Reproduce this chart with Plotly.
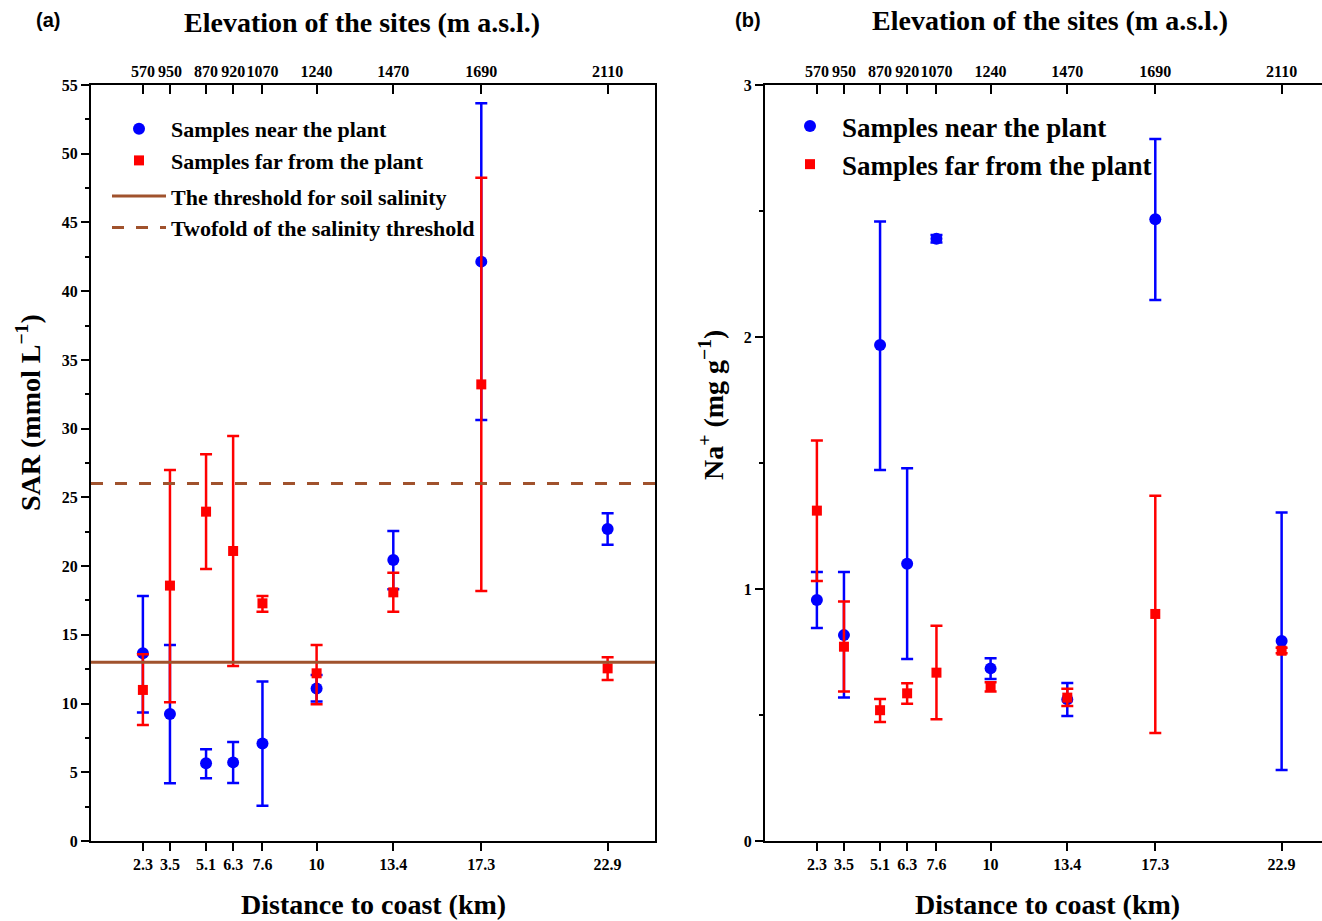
import plotly.graph_objects as go

# ---------------- data ----------------
distance_km = [2.3, 3.5, 5.1, 6.3, 7.6, 10, 13.4, 17.3, 22.9]
distance_labels = ["2.3", "3.5", "5.1", "6.3", "7.6", "10", "13.4", "17.3", "22.9"]
elevation_labels = ["570", "950", "870", "920", "1070", "1240", "1470", "1690", "2110"]

sar_near = [13.66, 9.24, 5.65, 5.72, 7.10, 11.10, 20.44, 42.15, 22.70]
sar_near_upper = [17.82, 14.26, 6.67, 7.20, 11.60, 12.08, 22.55, 53.67, 23.84]
sar_near_lower = [9.34, 4.20, 4.56, 4.22, 2.57, 10.14, 18.31, 30.63, 21.56]
sar_far = [10.99, 18.58, 23.96, 21.10, 17.29, 12.20, 18.09, 33.22, 12.56]
sar_far_upper = [13.58, 26.99, 28.13, 29.47, 17.82, 14.26, 19.52, 48.26, 13.37]
sar_far_lower = [8.44, 10.09, 19.79, 12.73, 16.68, 9.94, 16.68, 18.19, 11.71]

na_near = [0.956, 0.817, 1.968, 1.100, 2.390, 0.685, 0.562, 2.467, 0.794]
na_near_upper = [1.067, 1.067, 2.458, 1.479, 2.405, 0.725, 0.627, 2.786, 1.304]
na_near_lower = [0.845, 0.569, 1.472, 0.722, 2.375, 0.643, 0.496, 2.147, 0.282]
na_far = [1.311, 0.771, 0.519, 0.586, 0.668, 0.612, 0.569, 0.901, 0.755]
na_far_upper = [1.589, 0.950, 0.563, 0.626, 0.854, 0.630, 0.604, 1.370, 0.767]
na_far_lower = [1.032, 0.593, 0.472, 0.545, 0.483, 0.593, 0.536, 0.429, 0.745]

sar_threshold = 13
sar_threshold_twofold = 26
x_range_a = [0, 25]

# ---------------- style ----------------
W, H = 1322, 921
SERIF = "Liberation Serif"
BLUE = "#0000FF"
RED = "#FF0000"
BROWN = "#A0522D"


def px(x):
    return x / W


def py(y):
    return 1 - y / H


def err(vals, up, lo):
    return dict(
        type="data",
        symmetric=False,
        array=[u - v for u, v in zip(up, vals)],
        arrayminus=[v - l for l, v in zip(lo, vals)],
        thickness=2.5,
        width=6,
    )


fig = go.Figure()

# panel (a)
fig.add_trace(go.Scatter(
    x=distance_km, y=sar_near, mode="markers", name="Samples near the plant",
    marker=dict(symbol="circle", size=12, color=BLUE),
    error_y=dict(**err(sar_near, sar_near_upper, sar_near_lower), color=BLUE),
    xaxis="x", yaxis="y", legend="legend", legendgroup="pts",
))
fig.add_trace(go.Scatter(
    x=distance_km, y=sar_far, mode="markers", name="Samples far from the plant",
    marker=dict(symbol="square", size=10, color=RED),
    error_y=dict(**err(sar_far, sar_far_upper, sar_far_lower), color=RED),
    xaxis="x", yaxis="y", legend="legend", legendgroup="pts",
))
fig.add_trace(go.Scatter(
    x=x_range_a, y=[sar_threshold] * 2, mode="lines",
    name="The threshold for soil salinity",
    line=dict(color=BROWN, width=3),
    xaxis="x", yaxis="y", legend="legend", legendgroup="thr",
))
fig.add_trace(go.Scatter(
    x=x_range_a, y=[sar_threshold_twofold] * 2, mode="lines",
    name="Twofold of the salinity threshold",
    line=dict(color=BROWN, width=3, dash="12px,12px"),
    xaxis="x", yaxis="y", legend="legend", legendgroup="thr",
))

# panel (b)
fig.add_trace(go.Scatter(
    x=distance_km, y=na_near, mode="markers", name="Samples near the plant",
    marker=dict(symbol="circle", size=12, color=BLUE),
    error_y=dict(**err(na_near, na_near_upper, na_near_lower), color=BLUE),
    xaxis="x2", yaxis="y2", legend="legend2",
))
fig.add_trace(go.Scatter(
    x=distance_km, y=na_far, mode="markers", name="Samples far from the plant",
    marker=dict(symbol="square", size=10, color=RED),
    error_y=dict(**err(na_far, na_far_upper, na_far_lower), color=RED),
    xaxis="x2", yaxis="y2", legend="legend2",
))

# invisible traces so that the top (elevation) axes are drawn
for xa, ya, yv in (("x3", "y", sar_near), ("x4", "y2", na_near)):
    fig.add_trace(go.Scatter(
        x=distance_km, y=yv, mode="markers", marker=dict(opacity=0),
        xaxis=xa, yaxis=ya, showlegend=False, hoverinfo="skip",
    ))

tickfont = dict(family=SERIF, size=16, color="black", weight="bold")
dom_a = [px(91), px(655)]
dom_b = [px(765), 1.0]
dom_y = [py(841), py(85)]
x_range_b = [0, (W - 765) / ((655 - 91) / 25)]

common_x = dict(
    tickvals=distance_km, ticktext=distance_labels, ticks="outside", ticklen=8,
    tickwidth=2, tickcolor="black", showline=True, linewidth=2, linecolor="black",
    showgrid=False, zeroline=False, tickfont=tickfont, automargin=False, tickangle=0,
)
top_x = dict(
    tickvals=distance_km, ticktext=elevation_labels, ticks="inside", ticklen=9,
    tickwidth=2, tickcolor="black", showline=True, linewidth=2, linecolor="black",
    showgrid=False, zeroline=False, tickfont=tickfont, side="top", automargin=False,
    tickangle=0,
)

fig.update_layout(
    width=W, height=H,
    margin=dict(l=0, r=0, t=0, b=0, pad=0),
    paper_bgcolor="white", plot_bgcolor="white",
    showlegend=True,
    xaxis=dict(domain=dom_a, range=x_range_a, anchor="y", **common_x),
    xaxis3=dict(overlaying="x", anchor="y", range=x_range_a, **top_x),
    yaxis=dict(
        domain=dom_y, range=[0, 55], dtick=5, tick0=0, anchor="x",
        ticks="outside", ticklen=8, tickwidth=2, tickcolor="black",
        minor=dict(ticks="outside", ticklen=4, tickwidth=1.5, tickcolor="black", dtick=2.5),
        showline=True, linewidth=2, linecolor="black", mirror=True,
        showgrid=False, zeroline=False, tickfont=tickfont, automargin=False,
    ),
    xaxis2=dict(domain=dom_b, range=x_range_b, anchor="y2", **common_x),
    xaxis4=dict(overlaying="x2", anchor="y2", range=x_range_b, **top_x),
    yaxis2=dict(
        domain=dom_y, range=[0, 3], dtick=1, tick0=0, anchor="x2",
        ticks="outside", ticklen=8, tickwidth=2, tickcolor="black",
        minor=dict(ticks="outside", ticklen=4, tickwidth=1.5, tickcolor="black", dtick=0.5),
        showline=True, linewidth=2, linecolor="black",
        showgrid=False, zeroline=False, tickfont=tickfont, automargin=False,
    ),
    legend=dict(
        x=px(107), y=py(108), xanchor="left", yanchor="top",
        bgcolor="rgba(0,0,0,0)", traceorder="grouped", tracegroupgap=4,
        font=dict(family=SERIF, size=22, color="black", weight="bold"),
        itemwidth=54,
    ),
    legend2=dict(
        x=px(778), y=py(102), xanchor="left", yanchor="top",
        bgcolor="rgba(0,0,0,0)",
        font=dict(family=SERIF, size=27, color="black", weight="bold"),
        itemwidth=54,
    ),
)

title_font = dict(family=SERIF, size=28, color="black", weight="bold")
lab_font = dict(family="Liberation Sans", size=20, color="black", weight="bold")
ann = [
    dict(text="(a)", x=px(48), y=py(20), font=lab_font),
    dict(text="(b)", x=px(748), y=py(20), font=lab_font),
    dict(text="Elevation of the sites (m a.s.l.)", x=px(362), y=py(22), font=title_font),
    dict(text="Elevation of the sites (m a.s.l.)", x=px(1050), y=py(20), font=title_font),
    dict(text="Distance to coast (km)", x=px(373), y=py(904), font=title_font),
    dict(text="Distance to coast (km)", x=px(1047), y=py(904), font=title_font),
    dict(text="SAR (mmol L<sup>−1</sup>)", x=px(28), y=py(413), textangle=-90, font=title_font),
    dict(text="Na<sup>+</sup> (mg g<sup>−1</sup>)", x=px(711), y=py(405), textangle=-90, font=title_font),
]
for a in ann:
    fig.add_annotation(xref="paper", yref="paper", showarrow=False,
                       xanchor="center", yanchor="middle", **a)

fig.write_html(
    "out.html",
    config={"displayModeBar": False},
    post_script="document.body.style.margin='0';document.body.style.overflow='hidden';",
)
